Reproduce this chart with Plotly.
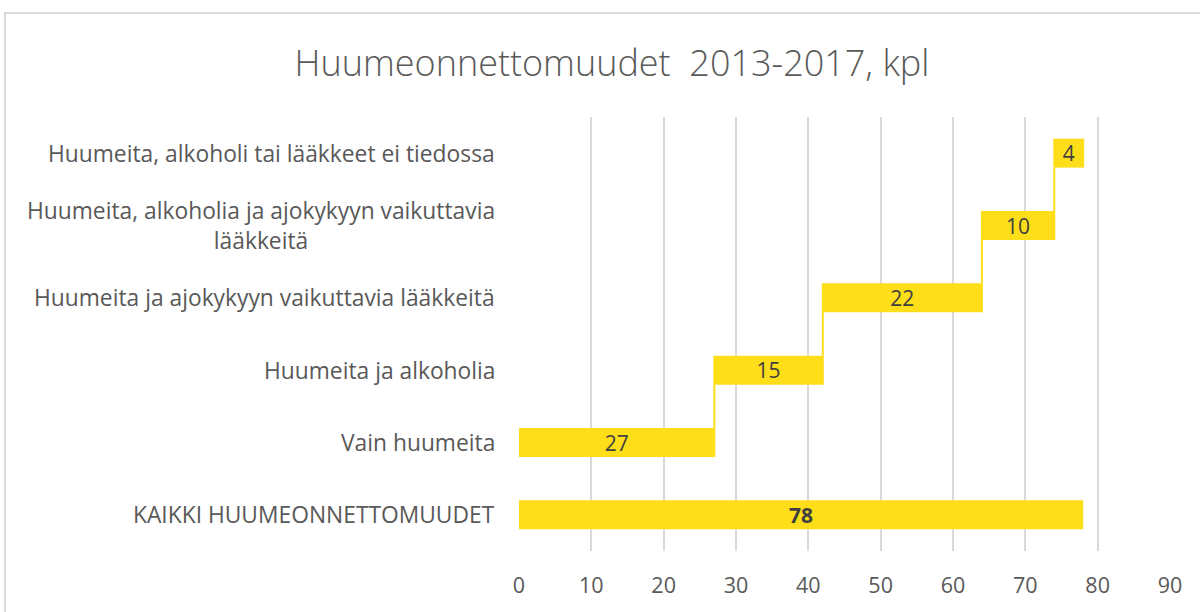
import plotly.graph_objects as go

title = "Huumeonnettomuudet\u00a0 2013-2017, kpl"
total_label = "KAIKKI HUUMEONNETTOMUUDET"
total_value = 78
part_labels = [
    "Vain huumeita",
    "Huumeita ja alkoholia",
    "Huumeita ja ajokykyyn vaikuttavia lääkkeitä",
    "Huumeita, alkoholia ja ajokykyyn vaikuttavia<br>lääkkeitä",
    "Huumeita, alkoholi tai lääkkeet ei tiedossa",
]
part_values = [27, 15, 22, 10, 4]
x_ticks = [0, 10, 20, 30, 40, 50, 60, 70, 80, 90]

YELLOW = "#FEDD19"
TXT = "#595959"
FONT = "Open Sans"

categories = [total_label] + part_labels

fig = go.Figure()
fig.add_trace(go.Bar(
    y=[total_label], x=[total_value], orientation="h",
    marker=dict(color=YELLOW, line=dict(width=0)), width=0.4,
    text=[total_value], texttemplate="<b>%{text}</b>",
    textposition="inside", insidetextanchor="middle", textangle=0,
    constraintext="none",
    textfont=dict(color="#404040", size=21, family=FONT),
    showlegend=False, hoverinfo="skip",
))
fig.add_trace(go.Waterfall(
    y=part_labels, x=part_values, orientation="h",
    measure=["relative"] * len(part_values),
    increasing=dict(marker=dict(color=YELLOW, line=dict(width=0))),
    connector=dict(line=dict(color=YELLOW, width=2), mode="between"),
    width=0.4,
    text=part_values, texttemplate="%{text}",
    textposition="inside", insidetextanchor="middle", textangle=0,
    constraintext="none",
    textfont=dict(color="#404040", size=21, family=FONT),
    showlegend=False, hoverinfo="skip",
))

for lab in categories:
    fig.add_annotation(
        x=0, xref="paper", y=lab, yref="y", xanchor="right", xshift=-22,
        text=lab, showarrow=False, align="center",
        font=dict(size=22.8, color=TXT, family=FONT),
    )

fig.add_shape(type="rect", xref="paper", yref="paper",
              x0=-0.7895, x1=1.06, y0=-0.2, y1=1.2396,
              line=dict(color="#D9D9D9", width=2), layer="below")

fig.update_layout(
    width=1200, height=612,
    margin=dict(l=519, r=30, t=117, b=61),
    paper_bgcolor="white", plot_bgcolor="white",
    title=dict(text=title, x=0.51, xanchor="center", y=0.897, yanchor="middle",
               font=dict(size=36, color=TXT, family=FONT, weight=300)),
    xaxis=dict(range=[0, 90], tickvals=x_ticks, showgrid=True, gridcolor="#D9D9D9",
               gridwidth=1.5, zeroline=False, showline=False,
               tickfont=dict(size=21.5, color=TXT, family=FONT),
               ticks="", ticklabelstandoff=19),
    yaxis=dict(type="category", categoryorder="array", categoryarray=categories,
               range=[-0.5, 5.5], showticklabels=False, showgrid=False,
               zeroline=False, showline=False),
    bargap=0.6,
)

fig.write_html("out.html", config={"displayModeBar": False},
               post_script="document.body.style.margin='0';")
